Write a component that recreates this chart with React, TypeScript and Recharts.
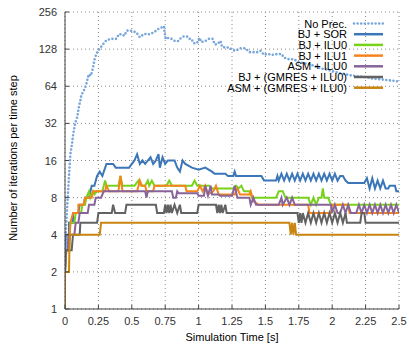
import { LineChart, Line, XAxis, YAxis, CartesianGrid } from "recharts";

type Pt = [number, number];

const xTicks = [0, 0.25, 0.5, 0.75, 1, 1.25, 1.5, 1.75, 2, 2.25, 2.5];
const yTicks = [1, 2, 4, 8, 16, 32, 64, 128, 256];

const seriesNames = [
  "No Prec.",
  "BJ + SOR",
  "BJ + ILU0",
  "BJ + ILU1",
  "ASM + ILU0",
  "BJ + (GMRES + ILU0)",
  "ASM + (GMRES + ILU0)",
];
const seriesColors = ["#76a6dc", "#3b76b8", "#76d31a", "#f7841a", "#87649a", "#626262", "#c98510"];

// time [s], iterations per step
const noPrec: Pt[] = [
  [0, 3], [0.01, 5], [0.02, 8], [0.03, 12], [0.04, 18], [0.053, 22], [0.058, 24.6], [0.065, 27.5],
  [0.073, 31], [0.083, 34], [0.092, 36], [0.098, 40], [0.107, 45], [0.115, 49], [0.122, 54],
  [0.133, 57], [0.148, 61], [0.16, 67], [0.178, 80], [0.195, 78], [0.208, 89], [0.215, 97],
  [0.223, 108], [0.238, 119], [0.26, 129], [0.283, 140], [0.31, 151], [0.343, 155], [0.36, 155],
  [0.385, 155], [0.403, 169], [0.428, 169], [0.443, 164], [0.465, 181], [0.498, 180], [0.533, 175],
  [0.56, 160], [0.593, 170], [0.633, 169], [0.668, 176], [0.693, 185], [0.728, 193], [0.741, 196],
  [0.745, 178], [0.753, 155], [0.773, 158], [0.798, 155], [0.823, 149], [0.848, 149], [0.869, 158],
  [0.888, 162], [0.913, 162], [0.93, 155], [0.946, 155], [0.963, 143], [0.988, 143], [1.006, 158],
  [1.02, 146], [1.046, 148], [1.076, 155], [1.106, 155], [1.12, 140], [1.139, 140], [1.164, 149],
  [1.176, 133], [1.2, 132], [1.226, 132], [1.256, 126], [1.276, 124], [1.314, 130], [1.35, 130],
  [1.381, 121], [1.414, 121], [1.44, 121], [1.464, 124], [1.489, 115], [1.514, 117], [1.552, 115],
  [1.59, 117], [1.62, 117], [1.64, 109], [1.676, 106], [1.714, 106], [1.75, 100], [1.8, 98],
  [1.85, 95], [1.9, 90], [1.95, 88], [2.0, 85], [2.05, 82], [2.1, 80], [2.15, 78], [2.2, 77],
  [2.25, 76], [2.3, 74], [2.35, 73], [2.4, 72], [2.45, 71], [2.5, 70],
];

const bjSor: Pt[] = [
  [0, 2], [0.005, 4], [0.03, 4], [0.03, 5], [0.06, 5], [0.06, 6], [0.1, 6], [0.11, 7], [0.14, 7],
  [0.15, 8], [0.18, 8], [0.2, 10], [0.22, 10], [0.24, 12], [0.26, 13], [0.28, 12], [0.31, 15],
  [0.36, 15], [0.38, 14], [0.48, 14], [0.5, 15], [0.52, 16], [0.54, 18], [0.56, 15], [0.58, 16],
  [0.6, 15], [0.62, 16], [0.64, 17], [0.66, 15], [0.68, 16], [0.7, 18], [0.71, 14], [0.73, 17],
  [0.75, 15], [0.77, 16], [0.82, 16], [0.84, 14], [0.86, 13], [0.88, 16], [0.9, 15], [0.95, 14],
  [1.0, 13.5], [1.05, 14], [1.1, 13], [1.12, 12.5], [1.2, 12.5], [1.22, 12], [1.26, 12], [1.27, 13],
  [1.28, 12], [1.47, 12], [1.49, 11], [1.58, 11], [1.59, 12], [1.6, 11], [1.62, 12.5], [1.64, 11],
  [1.66, 12.5], [1.68, 11], [1.7, 12.5], [1.72, 11], [1.74, 12.5], [1.76, 11], [1.78, 12.5],
  [1.8, 11], [1.82, 12.5], [1.84, 11], [1.86, 12.5], [1.88, 11], [1.9, 12.5], [1.92, 11],
  [1.94, 12.5], [1.96, 11], [1.98, 12.5], [2.0, 11], [2.02, 12.5], [2.04, 11], [2.06, 12],
  [2.08, 12], [2.1, 11], [2.12, 10.5], [2.24, 10.5], [2.26, 11.5], [2.28, 9.5], [2.3, 11.5],
  [2.32, 9.5], [2.34, 11], [2.36, 9.5], [2.38, 11], [2.4, 9.5], [2.42, 9.5], [2.43, 10], [2.47, 10],
  [2.48, 9], [2.5, 9],
];

const bjIlu0: Pt[] = [
  [0, 2], [0.01, 3], [0.03, 3], [0.04, 5], [0.07, 5], [0.08, 6], [0.12, 6], [0.13, 7], [0.15, 7],
  [0.16, 8], [0.18, 9], [0.19, 8], [0.21, 9], [0.22, 8.5], [0.24, 9], [0.28, 9], [0.3, 11],
  [0.31, 10], [0.4, 10], [0.415, 12], [0.43, 10], [0.52, 10], [0.55, 11], [0.57, 10], [0.6, 10],
  [0.62, 11], [0.63, 10], [0.65, 11], [0.67, 10], [0.76, 10], [0.78, 11], [0.8, 10], [0.95, 10],
  [0.97, 11], [0.99, 10], [1.08, 10], [1.1, 9.5], [1.26, 9.5], [1.28, 10], [1.3, 9.5], [1.32, 10],
  [1.34, 9], [1.38, 9], [1.4, 8], [1.58, 8], [1.6, 9], [1.63, 9], [1.65, 8], [1.82, 8], [1.84, 7],
  [1.86, 8], [1.88, 7], [1.9, 8], [1.92, 8], [1.93, 9.5], [1.94, 8], [1.97, 8], [1.99, 7], [2.5, 7],
];

const bjIlu1: Pt[] = [
  [0, 2], [0.01, 3], [0.03, 3], [0.04, 5], [0.06, 6], [0.1, 6], [0.1, 7], [0.14, 7], [0.15, 8],
  [0.2, 8], [0.21, 9], [0.3, 9], [0.31, 10], [0.33, 9], [0.4, 9], [0.415, 12], [0.43, 9],
  [0.54, 9], [0.56, 11], [0.575, 10], [0.6, 10], [0.61, 9], [0.66, 9], [0.67, 10], [0.9, 10],
  [0.91, 9], [0.99, 9], [1.01, 10], [1.03, 9], [1.05, 10], [1.07, 8.5], [1.11, 9], [1.13, 10],
  [1.15, 8.5], [1.27, 8.5], [1.29, 9.5], [1.31, 8.5], [1.38, 8.5], [1.39, 9], [1.41, 7.5],
  [1.45, 7], [1.82, 7], [1.83, 6], [1.99, 6], [2.0, 7], [2.12, 7], [2.13, 6], [2.5, 6],
];

const asmIlu0: Pt[] = [
  [0, 2], [0.005, 3], [0.02, 3], [0.025, 4], [0.07, 4], [0.08, 5], [0.1, 5], [0.11, 6], [0.17, 6],
  [0.18, 7], [0.22, 7], [0.23, 8], [0.27, 8], [0.29, 9], [0.6, 9], [0.61, 8], [0.62, 9], [0.8, 9],
  [0.81, 8], [0.83, 8], [0.84, 9], [0.85, 8.7], [0.99, 8.7], [1.0, 8.3], [1.04, 8.3], [1.05, 10],
  [1.07, 8.3], [1.09, 10], [1.1, 8.5], [1.15, 8.5], [1.16, 8.3], [1.25, 8.3], [1.27, 10], [1.29, 8],
  [1.38, 8], [1.39, 7], [1.41, 8], [1.43, 7], [1.6, 7], [1.62, 8], [1.63, 7], [1.66, 8], [1.68, 7],
  [1.7, 8], [1.72, 7], [1.99, 7], [2.0, 6], [2.02, 7], [2.04, 6], [2.06, 6], [2.08, 7], [2.1, 6],
  [2.12, 7], [2.14, 6], [2.18, 6], [2.2, 7], [2.22, 6], [2.24, 7], [2.26, 6], [2.28, 7], [2.3, 6],
  [2.32, 7], [2.34, 6], [2.36, 7], [2.38, 6], [2.4, 7], [2.42, 6], [2.44, 7], [2.46, 6], [2.48, 7],
  [2.5, 6],
];

const bjGmres: Pt[] = [
  [0, 2], [0.005, 3], [0.05, 3], [0.06, 4], [0.11, 4], [0.115, 5], [0.24, 5], [0.25, 6], [0.35, 6],
  [0.36, 7], [0.375, 6], [0.45, 6], [0.46, 7], [0.68, 7], [0.69, 6], [0.74, 6], [0.75, 7],
  [0.76, 6], [0.77, 7], [0.78, 6], [0.79, 7], [0.8, 6], [0.82, 7], [0.84, 6], [0.86, 7], [0.87, 6],
  [0.99, 6], [1.0, 7], [1.13, 7], [1.14, 6], [1.15, 7], [1.16, 6], [1.17, 7], [1.18, 6], [1.2, 7],
  [1.21, 6], [1.74, 6], [1.75, 5], [1.76, 6], [1.77, 5], [1.78, 6], [1.8, 5], [1.82, 6], [1.84, 5],
  [1.86, 6], [1.88, 5], [1.9, 6], [1.92, 5], [1.94, 6], [1.96, 5], [1.98, 6], [2.0, 5], [2.02, 6],
  [2.04, 5], [2.06, 6], [2.08, 5], [2.1, 6], [2.11, 5], [2.21, 5], [2.22, 6], [2.24, 6], [2.25, 5],
  [2.5, 5],
];

const asmGmres: Pt[] = [
  [0, 1], [0, 2], [0.03, 2], [0.035, 4], [0.26, 4], [0.27, 5], [1.68, 5], [1.69, 4], [1.7, 5],
  [1.71, 4], [1.72, 5], [1.73, 4], [2.5, 4],
];

const allSeries = [noPrec, bjSor, bjIlu0, bjIlu1, asmIlu0, bjGmres, asmGmres];

const toRows = (pts: Pt[]) => pts.map(([t, v]) => ({ t, v }));

const FONT = "'Liberation Sans', Arial, sans-serif";
const TICK_COLOR = "#333";

function BottomTick(p: any) {
  const { x, y, payload } = p;
  return (
    <g>
      <line x1={x} x2={x} y1={y} y2={y - 4} stroke="#444" />
      <text x={x} y={y + 16} textAnchor="middle" fontSize={11} fontFamily={FONT} fill={TICK_COLOR}>
        {String(payload.value)}
      </text>
    </g>
  );
}

function TopTick(p: any) {
  const { x, y } = p;
  return <line x1={x} x2={x} y1={y} y2={y + 4} stroke="#444" />;
}

function LeftTick(p: any) {
  const { x, y, payload } = p;
  return (
    <g>
      <line x1={x} x2={x + 4} y1={y} y2={y} stroke="#444" />
      <text x={x - 8} y={y + 4} textAnchor="end" fontSize={11} fontFamily={FONT} fill={TICK_COLOR}>
        {String(payload.value)}
      </text>
    </g>
  );
}

function RightTick(p: any) {
  const { x, y } = p;
  return <line x1={x} x2={x - 4} y1={y} y2={y} stroke="#444" />;
}

export default function App() {
  return (
    <div style={{ position: "absolute", left: 0, top: 0, width: 409, height: 348, background: "#fff" }}>
      <LineChart width={409} height={348} margin={{ top: 12, right: 10, bottom: 0, left: 0 }}>
        <CartesianGrid stroke="#888" strokeDasharray="1 3" />
        <XAxis
          dataKey="t"
          type="number"
          domain={[0, 2.5]}
          ticks={xTicks}
          interval={0}
          allowDataOverflow
          height={39}
          tickSize={0}
          tickMargin={0}
          tickLine={false}
          axisLine={{ stroke: "#444" }}
          tick={<BottomTick />}
        />
        <XAxis
          xAxisId="top"
          orientation="top"
          dataKey="t"
          type="number"
          domain={[0, 2.5]}
          ticks={xTicks}
          interval={0}
          height={0}
          tickSize={0}
          tickMargin={0}
          tickLine={false}
          axisLine={false}
          tick={<TopTick />}
        />
        <YAxis
          type="number"
          scale="log"
          domain={[1, 256]}
          ticks={yTicks}
          interval={0}
          allowDataOverflow
          width={65}
          tickSize={0}
          tickMargin={0}
          tickLine={false}
          axisLine={{ stroke: "#444" }}
          tick={<LeftTick />}
        />
        <YAxis
          yAxisId="right"
          orientation="right"
          type="number"
          scale="log"
          domain={[1, 256]}
          ticks={yTicks}
          interval={0}
          width={0}
          tickSize={0}
          tickMargin={0}
          tickLine={false}
          axisLine={false}
          tick={<RightTick />}
        />
        {allSeries.map((pts, i) => (
          <Line
            key={seriesNames[i]}
            data={toRows(pts)}
            dataKey="v"
            name={seriesNames[i]}
            type="linear"
            stroke={seriesColors[i]}
            strokeWidth={i === 0 ? 2.6 : 2}
            strokeDasharray={i === 0 ? "0 3.6" : undefined}
            strokeLinecap={i === 0 ? "round" : "butt"}
            dot={false}
            isAnimationActive={false}
          />
        ))}
      </LineChart>
      <svg
        width={409}
        height={348}
        style={{ position: "absolute", left: 0, top: 0, pointerEvents: "none" }}
        fontFamily={FONT}
        fontSize={11}
      >
        {seriesNames.map((name, i) => {
          const cy = 23.5 + i * 10.7;
          return (
            <g key={name}>
              <text x={347} y={cy + 4} textAnchor="end" fill="#000">
                {name}
              </text>
              <line
                x1={354}
                x2={383}
                y1={cy}
                y2={cy}
                stroke={seriesColors[i]}
                strokeWidth={i === 0 ? 2.6 : 2.5}
                strokeDasharray={i === 0 ? "0 3.6" : undefined}
                strokeLinecap={i === 0 ? "round" : "butt"}
              />
            </g>
          );
        })}
        <text x={232} y={341} textAnchor="middle" fill="#000">
          Simulation Time [s]
        </text>
        <text transform="translate(17,158) rotate(-90)" textAnchor="middle" fill="#000">
          Number of iterations per time step
        </text>
      </svg>
    </div>
  );
}
